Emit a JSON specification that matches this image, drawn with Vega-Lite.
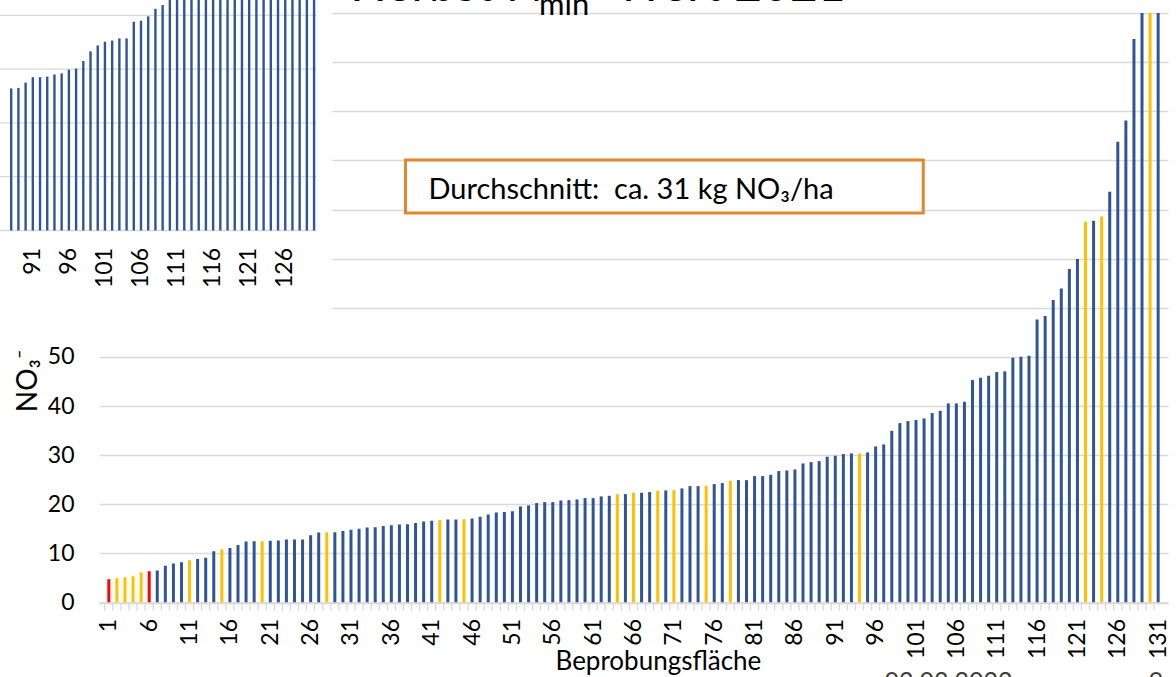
{
  "$schema": "https://vega.github.io/schema/vega-lite/v6.json",
  "autosize": {"type": "none"},
  "padding": {"left": 99, "top": 13, "right": 8, "bottom": 74.5},
  "width": 1069,
  "height": 589.5,
  "background": "white",
  "config": {"view": {"stroke": null}, "font": "Lato", "text": {"font": "Lato", "color": "#000000"}},
  "datasets": {
    "flaechen": [
      {"nr": 1, "no3": 4.75, "gruppe": "A"}, {"nr": 2, "no3": 4.96, "gruppe": "B"}, {"nr": 3, "no3": 5.16, "gruppe": "B"},
      {"nr": 4, "no3": 5.36, "gruppe": "B"}, {"nr": 5, "no3": 6.18, "gruppe": "B"}, {"nr": 6, "no3": 6.38, "gruppe": "A"},
      {"nr": 7, "no3": 6.52, "gruppe": "C"}, {"nr": 8, "no3": 7.47, "gruppe": "C"}, {"nr": 9, "no3": 7.94, "gruppe": "C"},
      {"nr": 10, "no3": 8.21, "gruppe": "C"}, {"nr": 11, "no3": 8.62, "gruppe": "B"}, {"nr": 12, "no3": 8.83, "gruppe": "C"},
      {"nr": 13, "no3": 9.1, "gruppe": "C"}, {"nr": 14, "no3": 10.45, "gruppe": "C"}, {"nr": 15, "no3": 10.86, "gruppe": "B"},
      {"nr": 16, "no3": 11.07, "gruppe": "C"}, {"nr": 17, "no3": 11.68, "gruppe": "C"}, {"nr": 18, "no3": 12.42, "gruppe": "C"},
      {"nr": 19, "no3": 12.49, "gruppe": "C"}, {"nr": 20, "no3": 12.49, "gruppe": "B"}, {"nr": 21, "no3": 12.56, "gruppe": "C"},
      {"nr": 22, "no3": 12.63, "gruppe": "C"}, {"nr": 23, "no3": 12.83, "gruppe": "C"}, {"nr": 24, "no3": 12.83, "gruppe": "C"},
      {"nr": 25, "no3": 12.83, "gruppe": "C"}, {"nr": 26, "no3": 13.71, "gruppe": "C"}, {"nr": 27, "no3": 14.26, "gruppe": "C"},
      {"nr": 28, "no3": 14.32, "gruppe": "B"}, {"nr": 29, "no3": 14.32, "gruppe": "C"}, {"nr": 30, "no3": 14.53, "gruppe": "C"},
      {"nr": 31, "no3": 14.8, "gruppe": "C"}, {"nr": 32, "no3": 15.0, "gruppe": "C"}, {"nr": 33, "no3": 15.27, "gruppe": "C"},
      {"nr": 34, "no3": 15.34, "gruppe": "C"}, {"nr": 35, "no3": 15.55, "gruppe": "C"}, {"nr": 36, "no3": 15.75, "gruppe": "C"},
      {"nr": 37, "no3": 15.89, "gruppe": "C"}, {"nr": 38, "no3": 15.95, "gruppe": "C"}, {"nr": 39, "no3": 16.16, "gruppe": "C"},
      {"nr": 40, "no3": 16.5, "gruppe": "C"}, {"nr": 41, "no3": 16.63, "gruppe": "C"}, {"nr": 42, "no3": 16.77, "gruppe": "B"},
      {"nr": 43, "no3": 16.9, "gruppe": "C"}, {"nr": 44, "no3": 16.9, "gruppe": "C"}, {"nr": 45, "no3": 16.97, "gruppe": "B"},
      {"nr": 46, "no3": 17.11, "gruppe": "C"}, {"nr": 47, "no3": 17.45, "gruppe": "C"}, {"nr": 48, "no3": 17.92, "gruppe": "C"},
      {"nr": 49, "no3": 18.33, "gruppe": "C"}, {"nr": 50, "no3": 18.4, "gruppe": "C"}, {"nr": 51, "no3": 18.6, "gruppe": "C"},
      {"nr": 52, "no3": 19.55, "gruppe": "C"}, {"nr": 53, "no3": 19.76, "gruppe": "C"}, {"nr": 54, "no3": 20.23, "gruppe": "C"},
      {"nr": 55, "no3": 20.43, "gruppe": "C"}, {"nr": 56, "no3": 20.43, "gruppe": "C"}, {"nr": 57, "no3": 20.77, "gruppe": "C"},
      {"nr": 58, "no3": 20.84, "gruppe": "C"}, {"nr": 59, "no3": 20.98, "gruppe": "C"}, {"nr": 60, "no3": 21.25, "gruppe": "C"},
      {"nr": 61, "no3": 21.25, "gruppe": "C"}, {"nr": 62, "no3": 21.59, "gruppe": "C"}, {"nr": 63, "no3": 21.72, "gruppe": "C"},
      {"nr": 64, "no3": 22.06, "gruppe": "B"}, {"nr": 65, "no3": 22.06, "gruppe": "C"}, {"nr": 66, "no3": 22.34, "gruppe": "B"},
      {"nr": 67, "no3": 22.34, "gruppe": "C"}, {"nr": 68, "no3": 22.47, "gruppe": "C"}, {"nr": 69, "no3": 22.74, "gruppe": "B"},
      {"nr": 70, "no3": 22.81, "gruppe": "C"}, {"nr": 71, "no3": 22.88, "gruppe": "B"}, {"nr": 72, "no3": 23.22, "gruppe": "C"},
      {"nr": 73, "no3": 23.69, "gruppe": "C"}, {"nr": 74, "no3": 23.69, "gruppe": "C"}, {"nr": 75, "no3": 23.76, "gruppe": "B"},
      {"nr": 76, "no3": 24.1, "gruppe": "C"}, {"nr": 77, "no3": 24.3, "gruppe": "C"}, {"nr": 78, "no3": 24.78, "gruppe": "B"},
      {"nr": 79, "no3": 24.92, "gruppe": "C"}, {"nr": 80, "no3": 24.9, "gruppe": "C"}, {"nr": 81, "no3": 25.73, "gruppe": "C"},
      {"nr": 82, "no3": 25.73, "gruppe": "C"}, {"nr": 83, "no3": 26.0, "gruppe": "C"}, {"nr": 84, "no3": 26.75, "gruppe": "C"},
      {"nr": 85, "no3": 26.88, "gruppe": "C"}, {"nr": 86, "no3": 27.09, "gruppe": "C"}, {"nr": 87, "no3": 28.31, "gruppe": "C"},
      {"nr": 88, "no3": 28.58, "gruppe": "C"}, {"nr": 89, "no3": 28.78, "gruppe": "C"}, {"nr": 90, "no3": 29.67, "gruppe": "C"},
      {"nr": 91, "no3": 29.87, "gruppe": "C"}, {"nr": 92, "no3": 30.21, "gruppe": "C"}, {"nr": 93, "no3": 30.35, "gruppe": "C"},
      {"nr": 94, "no3": 30.35, "gruppe": "B"}, {"nr": 95, "no3": 30.55, "gruppe": "C"}, {"nr": 96, "no3": 31.77, "gruppe": "C"},
      {"nr": 97, "no3": 32.18, "gruppe": "C"}, {"nr": 98, "no3": 34.96, "gruppe": "C"}, {"nr": 99, "no3": 36.52, "gruppe": "C"},
      {"nr": 100, "no3": 36.93, "gruppe": "C"}, {"nr": 101, "no3": 37.14, "gruppe": "C"}, {"nr": 102, "no3": 37.47, "gruppe": "C"},
      {"nr": 103, "no3": 38.56, "gruppe": "C"}, {"nr": 104, "no3": 39.03, "gruppe": "C"}, {"nr": 105, "no3": 40.53, "gruppe": "C"},
      {"nr": 106, "no3": 40.53, "gruppe": "C"}, {"nr": 107, "no3": 40.87, "gruppe": "C"}, {"nr": 108, "no3": 45.28, "gruppe": "C"},
      {"nr": 109, "no3": 45.76, "gruppe": "C"}, {"nr": 110, "no3": 46.16, "gruppe": "C"}, {"nr": 111, "no3": 46.91, "gruppe": "C"},
      {"nr": 112, "no3": 47.05, "gruppe": "C"}, {"nr": 113, "no3": 49.83, "gruppe": "C"}, {"nr": 114, "no3": 50.03, "gruppe": "C"},
      {"nr": 115, "no3": 50.24, "gruppe": "C"}, {"nr": 116, "no3": 57.6, "gruppe": "C"}, {"nr": 117, "no3": 58.3, "gruppe": "C"},
      {"nr": 118, "no3": 61.6, "gruppe": "C"}, {"nr": 119, "no3": 63.9, "gruppe": "C"}, {"nr": 120, "no3": 67.9, "gruppe": "C"},
      {"nr": 121, "no3": 69.9, "gruppe": "C"}, {"nr": 122, "no3": 77.5, "gruppe": "B"}, {"nr": 123, "no3": 77.7, "gruppe": "C"},
      {"nr": 124, "no3": 78.6, "gruppe": "B"}, {"nr": 125, "no3": 83.6, "gruppe": "C"}, {"nr": 126, "no3": 93.8, "gruppe": "C"},
      {"nr": 127, "no3": 98.1, "gruppe": "C"}, {"nr": 128, "no3": 114.7, "gruppe": "C"}, {"nr": 129, "no3": 125.0, "gruppe": "C"},
      {"nr": 130, "no3": 135.0, "gruppe": "B"}, {"nr": 131, "no3": 150.0, "gruppe": "C"}
    ],
    "vorjahr": [
      {"nr": 88, "no3": 26.4}, {"nr": 89, "no3": 26.5}, {"nr": 90, "no3": 27.5}, {"nr": 91, "no3": 28.5},
      {"nr": 92, "no3": 28.5}, {"nr": 93, "no3": 28.6}, {"nr": 94, "no3": 29.0}, {"nr": 95, "no3": 29.2},
      {"nr": 96, "no3": 29.9}, {"nr": 97, "no3": 30.1}, {"nr": 98, "no3": 31.5}, {"nr": 99, "no3": 33.3},
      {"nr": 100, "no3": 34.4}, {"nr": 101, "no3": 35.1}, {"nr": 102, "no3": 35.3}, {"nr": 103, "no3": 35.7},
      {"nr": 104, "no3": 35.7}, {"nr": 105, "no3": 38.8}, {"nr": 106, "no3": 39.0}, {"nr": 107, "no3": 39.8},
      {"nr": 108, "no3": 41.2}, {"nr": 109, "no3": 41.9}, {"nr": 110, "no3": 43.5}, {"nr": 111, "no3": 44.2},
      {"nr": 112, "no3": 45.0}, {"nr": 113, "no3": 45.8}, {"nr": 114, "no3": 46.9}, {"nr": 115, "no3": 48.0},
      {"nr": 116, "no3": 49.5}, {"nr": 117, "no3": 51.0}, {"nr": 118, "no3": 52.5}, {"nr": 119, "no3": 54.5},
      {"nr": 120, "no3": 56.5}, {"nr": 121, "no3": 59.0}, {"nr": 122, "no3": 62.0}, {"nr": 123, "no3": 65.0},
      {"nr": 124, "no3": 69.0}, {"nr": 125, "no3": 74.0}, {"nr": 126, "no3": 80.0}, {"nr": 127, "no3": 88.0},
      {"nr": 128, "no3": 97.0}, {"nr": 129, "no3": 110.0}, {"nr": 130, "no3": 130.0}
    ]
  },
  "layer": [
    {
      "layer": [
        {
          "data": {"name": "flaechen"},
          "mark": {"type": "rule", "color": "#d9d9d9", "strokeWidth": 1.3, "xOffset": -4.07},
          "encoding": {
            "x": {"field": "nr", "type": "quantitative", "scale": {"domain": [0.4, 131.6], "nice": false, "zero": false}},
            "y": {"datum": 0, "type": "quantitative", "scale": {"domain": [0, 120], "nice": false}},
            "y2": {"datum": -1.63}
          }
        },
        {
          "data": {"name": "flaechen"},
          "mark": {"type": "bar", "width": 3, "clip": true},
          "encoding": {
            "x": {
              "field": "nr", "type": "quantitative",
              "scale": {"domain": [0.4, 131.6], "nice": false, "zero": false},
              "axis": {
                "title": null, "values": [1, 6, 11, 16, 21, 26, 31, 36, 41, 46, 51, 56, 61, 66, 71, 76, 81, 86, 91, 96, 101, 106, 111, 116, 121, 126, 131],
                "grid": false, "ticks": false, "domain": true, "domainColor": "#d9d9d9", "domainWidth": 1.3,
                "labelAngle": -90, "labelFont": "Lato", "labelFontSize": 23, "labelColor": "#000000",
                "labelPadding": 16, "labelOverlap": false, "labelFlush": false, "zindex": 0
              }
            },
            "y": {
              "field": "no3", "type": "quantitative",
              "scale": {"domain": [0, 120], "nice": false},
              "axis": {
                "title": null, "values": [0, 10, 20, 30, 40, 50, 60, 70, 80, 90, 100, 110, 120],
                "grid": true, "gridColor": "#d9d9d9", "gridWidth": 1.3, "ticks": false, "domain": false,
                "labelFont": "Lato", "labelFontSize": 23, "labelColor": "#000000", "labelPadding": 25, "zindex": 0
              }
            },
            "color": {
              "field": "gruppe", "type": "nominal", "legend": null,
              "scale": {"domain": ["A", "B", "C"], "range": ["#FF0000", "#FFC000", "#2F5597"]}
            }
          }
        },
        {
          "data": {"values": [{}]},
          "mark": {"type": "rect", "fill": "white", "stroke": "#E4862C", "strokeWidth": 3},
          "encoding": {"x": {"datum": 37.75}, "x2": {"datum": 101.9}, "y": {"datum": 90.08}, "y2": {"datum": 79.29}}
        },
        {
          "data": {"values": [{}]},
          "mark": {"type": "text", "text": "Durchschnitt:\u00a0 ca. 31 kg NO₃/ha", "fontSize": 29, "align": "left", "baseline": "alphabetic"},
          "encoding": {"x": {"datum": 40.6}, "y": {"datum": 82.08}}
        },
        {
          "data": {"values": [{}]},
          "mark": {"type": "text", "text": "Herbst N", "fontSize": 48, "align": "left", "baseline": "alphabetic"},
          "encoding": {"x": {"datum": 30.9}, "y": {"datum": 122.45}}
        },
        {
          "data": {"values": [{}]},
          "mark": {"type": "text", "text": "min", "fontSize": 31, "align": "left", "baseline": "alphabetic"},
          "encoding": {"x": {"datum": 54.3}, "y": {"datum": 119.59}}
        },
        {
          "data": {"values": [{}]},
          "mark": {"type": "text", "text": "Wert 2021", "fontSize": 48, "align": "left", "baseline": "alphabetic"},
          "encoding": {"x": {"datum": 63.7}, "y": {"datum": 122.45}}
        },
        {
          "data": {"values": [{}]},
          "mark": {"type": "text", "text": "Beprobungsfläche", "fontSize": 26, "align": "center", "baseline": "alphabetic"},
          "encoding": {"x": {"datum": 69.09}, "y": {"datum": -13.74}}
        },
        {
          "data": {"values": [{}]},
          "mark": {"type": "text", "text": "NO₃⁻", "fontSize": 28, "angle": 270, "align": "center", "baseline": "middle"},
          "encoding": {"x": {"datum": -8.93}, "y": {"datum": 45.09}}
        },
        {
          "data": {"values": [{}]},
          "mark": {"type": "text", "text": "02.03.2022", "fontSize": 25, "color": "#404040", "align": "left", "baseline": "alphabetic"},
          "encoding": {"x": {"datum": 97.11}, "y": {"datum": -17.81}}
        },
        {
          "data": {"values": [{}]},
          "mark": {"type": "text", "text": "9", "fontSize": 25, "color": "#404040", "align": "center", "baseline": "alphabetic"},
          "encoding": {"x": {"datum": 130.74}, "y": {"datum": -17.81}}
        }
      ]
    },
    {
      "layer": [
        {
          "data": {"values": [{}]},
          "mark": {"type": "rect", "fill": "white", "stroke": null},
          "encoding": {
            "x": {"datum": 85.93, "type": "quantitative", "scale": {"domain": [100.87, 247.71], "nice": false, "zero": false}, "axis": null},
            "x2": {"datum": 132.52},
            "y": {"datum": -18.49, "type": "quantitative", "scale": {"domain": [-69.145, 40.427], "nice": false, "zero": false}, "axis": null},
            "y2": {"datum": 44.7}
          }
        },
        {
          "data": {"values": [{"wert": 10}, {"wert": 20}, {"wert": 30}, {"wert": 40}]},
          "mark": {"type": "rule", "color": "#d9d9d9", "strokeWidth": 1.3},
          "encoding": {
            "x": {"datum": 84.56, "type": "quantitative", "scale": {"domain": [100.87, 247.71], "nice": false, "zero": false}, "axis": null},
            "x2": {"datum": 130.3},
            "y": {"field": "wert", "type": "quantitative", "scale": {"domain": [-69.145, 40.427], "nice": false, "zero": false}, "axis": null}
          }
        },
        {
          "data": {"values": [{}]},
          "mark": {"type": "rule", "color": "#d9d9d9", "strokeWidth": 1.3},
          "encoding": {
            "x": {"datum": 84.56, "type": "quantitative", "scale": {"domain": [100.87, 247.71], "nice": false, "zero": false}, "axis": null},
            "x2": {"datum": 130.3},
            "y": {"datum": 0, "type": "quantitative", "scale": {"domain": [-69.145, 40.427], "nice": false, "zero": false}, "axis": null}
          }
        },
        {
          "data": {"name": "vorjahr"},
          "mark": {"type": "bar", "width": 2.4, "color": "#2F5597"},
          "encoding": {
            "x": {"field": "nr", "type": "quantitative", "scale": {"domain": [100.87, 247.71], "nice": false, "zero": false}, "axis": null},
            "y": {"field": "no3", "type": "quantitative", "scale": {"domain": [-69.145, 40.427], "nice": false, "zero": false}, "axis": null},
            "y2": {"datum": 0}
          }
        },
        {
          "data": {"name": "vorjahr"},
          "transform": [{"filter": "(datum.nr - 1) % 5 == 0"}],
          "mark": {"type": "text", "fontSize": 23, "angle": 270, "align": "right", "baseline": "middle"},
          "encoding": {
            "x": {"field": "nr", "type": "quantitative", "scale": {"domain": [100.87, 247.71], "nice": false, "zero": false}, "axis": null},
            "y": {"datum": -3.25, "type": "quantitative", "scale": {"domain": [-69.145, 40.427], "nice": false, "zero": false}, "axis": null},
            "text": {"field": "nr", "type": "quantitative"}
          }
        }
      ]
    }
  ],
  "resolve": {"scale": {"x": "independent", "y": "independent"}}
}
